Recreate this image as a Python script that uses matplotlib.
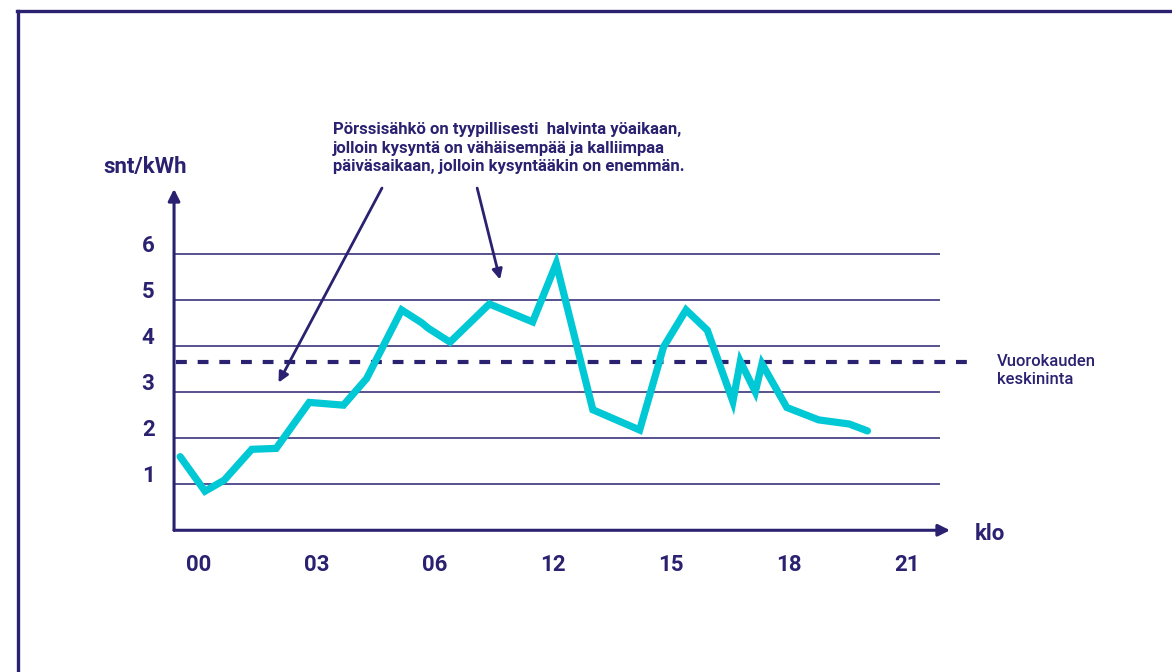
import matplotlib.pyplot as plt
import matplotlib.transforms as mtransforms
from matplotlib.lines import Line2D

plt.rcParams['font.family'] = ['Roboto', 'DejaVu Sans']

navy = '#2a2270'
cyan = '#00c8d4'

# hinta (snt/kWh), x in tunteina (kuvasta luettu)
hours = [-0.48, 0.15, 0.64, 1.34, 1.96, 2.80, 3.67, 4.26, 5.15, 5.66, 5.83, 6.38,
         7.38, 8.48, 9.08, 10.01, 11.20, 11.81, 12.38, 12.92, 13.57, 13.76, 14.14,
         14.31, 14.94, 15.75, 16.53, 16.99]
price = [1.60, 0.85, 1.09, 1.76, 1.78, 2.78, 2.72, 3.30, 4.79, 4.51, 4.39, 4.09,
         4.92, 4.53, 5.80, 2.62, 2.18, 3.99, 4.79, 4.35, 2.80, 3.67, 3.01,
         3.62, 2.67, 2.40, 2.31, 2.16]
average = 3.65

xtick_pos = [0, 3, 6, 9, 12, 15, 18]
xtick_labels = ['00', '03', '06', '12', '15', '18', '21']
ytick_pos = [1, 2, 3, 4, 5, 6]

note = ('Pörssisähkö on tyypillisesti  halvinta yöaikaan,\n'
        'jolloin kysyntä on vähäisempää ja kalliimpaa\n'
        'päiväsaikaan, jolloin kysyntääkin on enemmän.')

fig = plt.figure(figsize=(11.72, 6.72), dpi=100)
ax = fig.add_axes([0.1485, 0.2109, 0.6621, 0.5079])
ax.set_xlim(-0.636, 19.09)
ax.set_ylim(0, 7.42)
for s in ax.spines.values():
    s.set_visible(False)

# ruudukko
ax.hlines(ytick_pos, -0.636, 18.84, colors=navy, linewidth=1.1, zorder=1)
# keskiarvo
ax.hlines(average, -0.58, 19.73, colors=navy, linewidth=3.0,
          linestyles=(0, (2.6, 2.6)), clip_on=False, zorder=2)
ax.text(20.29, 3.47, 'Vuorokauden\nkeskininta', color=navy, fontsize=12,
        fontweight='medium', va='center', ha='left', linespacing=1.25)

ax.plot(hours, price, color=cyan, linewidth=5.2, solid_capstyle='round',
        solid_joinstyle='miter', zorder=3)

# akselit nuolineen
ax.annotate('', xy=(1, 0), xytext=(0, 0), xycoords='axes fraction',
            arrowprops=dict(arrowstyle='-|>,head_length=0.7,head_width=0.35',
                            color=navy, lw=2.2, shrinkA=0, shrinkB=0))
ax.annotate('', xy=(0, 1), xytext=(0, 0), xycoords='axes fraction',
            arrowprops=dict(arrowstyle='-|>,head_length=0.7,head_width=0.35',
                            color=navy, lw=2.2, shrinkA=0, shrinkB=0))

ax.set_xticks(xtick_pos)
ax.set_xticklabels(xtick_labels)
ax.set_yticks(ytick_pos)
ax.set_yticklabels([str(v) for v in ytick_pos])
ax.tick_params(length=0, labelcolor=navy, labelsize=16)
ax.tick_params(axis='x', pad=17)
ax.tick_params(axis='y', pad=14)
for lab in ax.get_xticklabels() + ax.get_yticklabels():
    lab.set_fontweight('bold')
offset = mtransforms.ScaledTranslation(0, 11 / 100, fig.dpi_scale_trans)
for lab in ax.get_yticklabels():
    lab.set_transform(lab.get_transform() + offset)

ax.text(-1.37, 7.90, 'snt/kWh', color=navy, fontsize=16, fontweight='bold',
        ha='center', va='center', clip_on=False)
ax.text(19.73, -0.08, 'klo', color=navy, fontsize=16, fontweight='bold',
        ha='left', va='center', clip_on=False)

ax.text(3.40, 8.31, note, color=navy, fontsize=12, fontweight='bold',
        ha='left', va='center', linespacing=1.3, clip_on=False)

ax.annotate('', xy=(2.02, 3.21), xytext=(4.65, 7.44),
            arrowprops=dict(arrowstyle='-|>,head_length=0.6,head_width=0.3',
                            color=navy, lw=2.0, shrinkA=0, shrinkB=0),
            annotation_clip=False)
ax.annotate('', xy=(7.65, 5.45), xytext=(7.07, 7.44),
            arrowprops=dict(arrowstyle='-|>,head_length=0.6,head_width=0.3',
                            color=navy, lw=2.0, shrinkA=0, shrinkB=0),
            annotation_clip=False)

# kehys
fig.add_artist(Line2D([18 / 1172, 18 / 1172], [0, 1 - 11 / 672],
                      color=navy, linewidth=2.4, transform=fig.transFigure))
fig.add_artist(Line2D([17 / 1172, 1], [1 - 11 / 672, 1 - 11 / 672],
                      color=navy, linewidth=2.4, transform=fig.transFigure))

fig.savefig('out.png', dpi=100)
